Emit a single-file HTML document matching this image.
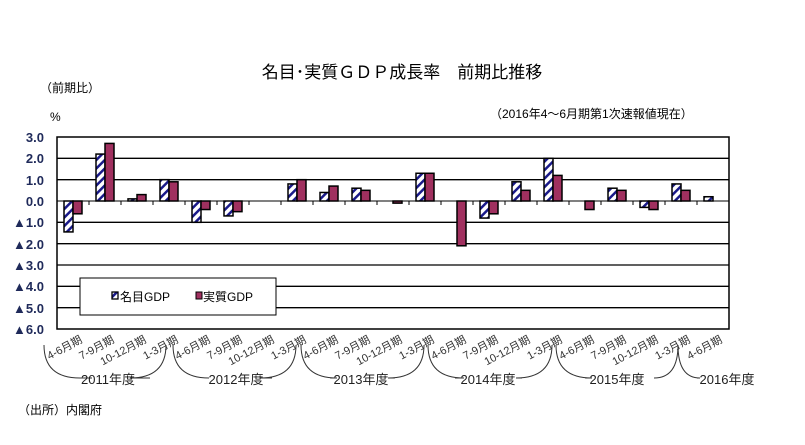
<!DOCTYPE html>
<html><head><meta charset="utf-8"><style>
body{margin:0;background:#fff}
svg{display:block;font-family:"Liberation Sans","Noto Sans CJK JP",sans-serif}
</style></head><body>
<svg width="805" height="445" viewBox="0 0 805 445" xmlns="http://www.w3.org/2000/svg">
<defs>
<pattern id="h" width="6" height="6" patternUnits="userSpaceOnUse" patternTransform="rotate(45)">
<rect width="6" height="6" fill="#fff"/><rect width="2.5" height="6" fill="#1a1a8a"/>
</pattern>
</defs>
<text x="402" y="78" font-size="17" text-anchor="middle" fill="#000">名目･実質ＧＤＰ成長率　前期比推移</text>
<text x="40" y="92" font-size="12" fill="#000">（前期比）</text>
<text x="50" y="121" font-size="12" fill="#000">%</text>
<text x="490" y="118" font-size="12" fill="#000">（2016年4～6月期第1次速報値現在）</text>
<g stroke="#000" stroke-width="1.3">
<line x1="57" y1="158.3" x2="729" y2="158.3"/><line x1="57" y1="179.7" x2="729" y2="179.7"/>
<line x1="57" y1="222.3" x2="729" y2="222.3"/><line x1="57" y1="243.7" x2="729" y2="243.7"/>
<line x1="57" y1="265" x2="729" y2="265"/><line x1="57" y1="286.3" x2="729" y2="286.3"/>
<line x1="57" y1="307.7" x2="729" y2="307.7"/>
<rect x="57" y="137" width="672" height="192" fill="none" stroke-width="1.5"/>
</g>
<g font-size="13" fill="#1f2a5a" text-anchor="end" font-weight="bold">
<text x="44" y="142">3.0</text><text x="44" y="163">2.0</text><text x="44" y="185">1.0</text><text x="44" y="206">0.0</text>
<text x="44" y="227">▲1.0</text><text x="44" y="249">▲2.0</text><text x="44" y="270">▲3.0</text><text x="44" y="291">▲4.0</text>
<text x="44" y="313">▲5.0</text><text x="44" y="334">▲6.0</text>
</g>
<g id="bars" stroke="#000" stroke-width="1.5"></g>
<line x1="57" y1="201" x2="729" y2="201" stroke="#000" stroke-width="1"/>
<g id="ticks" stroke="#000" stroke-width="1"></g>
<rect x="80" y="278" width="196" height="37" fill="#fff" stroke="#000" stroke-width="1"/>
<rect x="112" y="292" width="6" height="7" fill="url(#h)" stroke="#000" stroke-width="1.3"/>
<text x="120" y="301" font-size="12" fill="#000">名目GDP</text>
<rect x="196" y="292" width="6" height="7" fill="#a0305f" stroke="#000" stroke-width="1"/>
<text x="203" y="301" font-size="12" fill="#000">実質GDP</text>
<g id="labels" font-size="11" fill="#333" text-anchor="end"></g>
<g fill="none" stroke="#333" stroke-width="1">
<path d="M44,345 Q44,378 80,378 H92"/><path d="M166,345 Q166,378 130,378 H150"/>
<path d="M173,345 Q173,378 209,378 H205"/><path d="M296,345 Q296,378 260,378 H272"/>
<path d="M301,345 Q301,378 337,378 H330"/><path d="M424,345 Q424,378 388,378 H395"/>
<path d="M428,345 Q428,378 464,378 H455"/><path d="M552,345 Q552,378 516,378 H522"/>
<path d="M556,345 Q556,378 592,378 H585"/><path d="M678,345 Q678,378 654,378 H655"/>
<path d="M678,345 Q678,378 700,378 H697"/>
</g>
<g font-size="13" fill="#1f1f1f" text-anchor="middle">
<text x="108" y="384">2011年度</text><text x="236" y="384">2012年度</text><text x="361" y="384">2013年度</text>
<text x="488" y="384">2014年度</text><text x="617" y="384">2015年度</text><text x="727" y="384">2016年度</text>
</g>
<text x="18" y="414" font-size="12" fill="#000">（出所）内閣府</text>
<script>
var n=[-1.45,2.2,0.1,1.0,-1.0,-0.7,0,0.8,0.4,0.6,0,1.3,0,-0.8,0.9,2.0,0,0.6,-0.3,0.8,0.2];
var r=[-0.6,2.7,0.3,0.9,-0.4,-0.5,0,1.0,0.7,0.5,-0.1,1.3,-2.1,-0.6,0.5,1.2,-0.4,0.5,-0.4,0.5,0];
var L=["4-6月期","7-9月期","10-12月期","1-3月期"];
var ns="http://www.w3.org/2000/svg",b=document.getElementById("bars"),t=document.getElementById("ticks"),lb=document.getElementById("labels");
function R(x,v,f){if(v==0)return;var y0=201,y=201-v*21.33;var e=document.createElementNS(ns,"rect");e.setAttribute("x",x);e.setAttribute("y",Math.min(y,y0));e.setAttribute("width",9);e.setAttribute("height",Math.abs(y-y0));e.setAttribute("fill",f);b.appendChild(e);}
for(var i=0;i<21;i++){var cx=57+32*i+16;R(cx-9,n[i],"url(#h)");R(cx,r[i],"#a0305f");
var l=document.createElementNS(ns,"line");var tx=57+32*i;l.setAttribute("x1",tx);l.setAttribute("x2",tx);l.setAttribute("y1",201);l.setAttribute("y2",205);t.appendChild(l);
var s=document.createElementNS(ns,"text");s.setAttribute("transform","translate("+(cx+10)+",342) rotate(-28)");s.textContent=L[i%4];lb.appendChild(s);}
</script>
</svg>
</body></html>
